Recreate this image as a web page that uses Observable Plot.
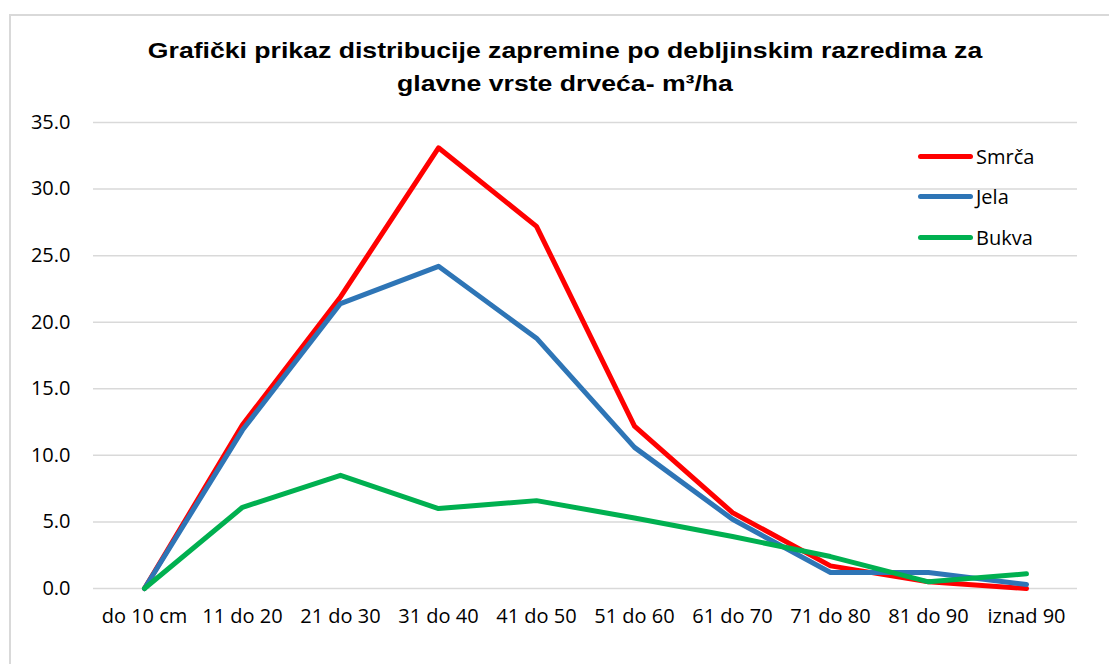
<!DOCTYPE html>
<html>
<head>
<meta charset="utf-8">
<script src="https://cdn.jsdelivr.net/npm/d3@7"></script>
<script src="https://cdn.jsdelivr.net/npm/@observablehq/plot@0.6"></script>
<style>
  html, body { margin: 0; padding: 0; background: #fff; }
  #wrap { position: relative; width: 1109px; height: 664px; overflow: hidden; background: #fff; }
  #frame { position: absolute; left: 9px; top: 14px; width: 1120px; height: 680px; border: 2px solid #d9d9d9; box-sizing: border-box; }
  #title { position: absolute; left: 0; top: 0; width: 1109px; height: 110px; }
  #title div { position: absolute; left: 0; width: 1130px; text-align: center; font-family: "Liberation Sans", Arial, sans-serif; font-weight: bold; font-size: 22px; color: #000; transform: scaleX(1.21); transform-origin: 565px 0; }
  #chart { position: absolute; left: 0; top: 110px; }
  #legend { position: absolute; left: 918px; top: 143px; font-family: "Open Sans", "Lato", sans-serif; font-size: 20px; color: #000; }
  .li { position: absolute; left: 0; height: 26px; display: flex; align-items: center; white-space: nowrap; }
  .li span.sw { display: inline-block; width: 55px; height: 5px; border-radius: 3px; margin-right: 3px; }
</style>
</head>
<body>
<div id="wrap">
  <div id="frame"></div>
  <div id="title">
    <div style="top:38px">Grafički prikaz distribucije zapremine po debljinskim razredima za</div>
    <div style="top:71px">glavne vrste drveća- m³/ha</div>
  </div>
  <div id="chart"></div>
  <div id="legend"></div>
</div>
<script>
const categories = ["do 10 cm", "11 do 20", "21 do 30", "31 do 40", "41 do 50", "51 do 60", "61 do 70", "71 do 80", "81 do 90", "iznad 90"];
const seriesNames = ["Smrča", "Jela", "Bukva"];
const seriesColors = ["#FF0000", "#2E75B6", "#00B050"];
const smrca = [0, 12.3, 21.9, 33.1, 27.2, 12.2, 5.7, 1.7, 0.5, 0.0];
const jela  = [0, 11.9, 21.4, 24.2, 18.8, 10.6, 5.2, 1.2, 1.2, 0.3];
const bukva = [0, 6.1, 8.5, 6.0, 6.6, 5.3, 3.9, 2.4, 0.5, 1.1];
const yTicks = [0, 5, 10, 15, 20, 25, 30, 35];

const seriesValues = [smrca, jela, bukva];
const data = [];
seriesNames.forEach((name, si) => {
  categories.forEach((c, i) => data.push({series: name, cat: c, value: seriesValues[si][i]}));
});

const chart = Plot.plot({
  width: 1109,
  height: 554,
  marginLeft: 93,
  marginRight: 32,
  marginTop: 12,
  marginBottom: 76,
  style: {fontFamily: "'Open Sans', Lato, sans-serif", fontSize: "20px", color: "#000", background: "transparent", overflow: "visible"},
  x: {type: "point", domain: categories, padding: 0.5, label: null, axis: null},
  y: {domain: [0, 35], label: null, axis: null},
  color: {domain: seriesNames, range: seriesColors},
  marks: [
    Plot.ruleY(yTicks, {stroke: "#d9d9d9", strokeWidth: 1.5}),
    Plot.text(yTicks, {y: d => d, text: d => d.toFixed(1), frameAnchor: "left", textAnchor: "end", dx: -23, fontSize: 20, fill: "#000"}),
    Plot.text(categories, {x: d => d, text: d => d, frameAnchor: "bottom", dy: 34, fontSize: 20, fill: "#000"}),
    Plot.line(data, {x: "cat", y: "value", z: "series", stroke: "series", strokeWidth: 5, strokeLinejoin: "round", strokeLinecap: "round"})
  ]
});
document.getElementById("chart").appendChild(chart);

const legend = document.getElementById("legend");
seriesNames.forEach((n, i) => {
  const d = document.createElement("div");
  d.className = "li";
  d.style.top = (i * 40.5) + "px";
  d.innerHTML = `<span class="sw" style="background:${seriesColors[i]}"></span><span>${n}</span>`;
  legend.appendChild(d);
});
</script>
</body>
</html>
